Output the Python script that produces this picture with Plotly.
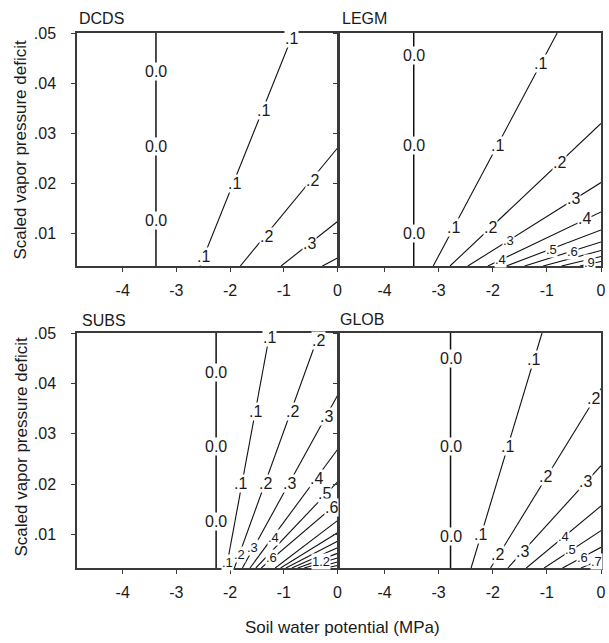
import plotly.graph_objects as go

# ---------------- data ----------------
X_RANGE = [-4.85, 0.0]
Y_RANGE = [0.0034, 0.05]
x_tick_vals = [-4, -3, -2, -1, 0]
x_tick_text = ["-4", "-3", "-2", "-1", "0"]
y_tick_vals = [0.01, 0.02, 0.03, 0.04, 0.05]
y_tick_text = [".01", ".02", ".03", ".04", ".05"]

# DCDS contour lines (straight segments: start -> end)
dcds_levels = [0.0, 0.1, 0.2, 0.3, 0.4]
dcds_x_start = [-3.38, -2.56, -1.81, -1.05, -0.28]
dcds_y_start = [0.0034, 0.0034, 0.0034, 0.0034, 0.0034]
dcds_x_end = [-3.38, -0.82, 0.0, 0.0, 0.0]
dcds_y_end = [0.05, 0.05, 0.027, 0.0123, 0.005]
dcds_lab_text = ["0.0", "0.0", "0.0", ".1", ".1", ".1", ".1", ".2", ".2", ".3"]
dcds_lab_x = [-3.38, -3.38, -3.38, -2.49, -1.92, -1.38, -0.85, -1.33, -0.46, -0.52]
dcds_lab_y = [0.0423, 0.0273, 0.0126, 0.0053, 0.0199, 0.0346, 0.0490, 0.0093, 0.0206, 0.0079]

# LEGM
legm_levels = [0.0, 0.1, 0.2, 0.3, 0.4, 0.5, 0.6, 0.7, 0.8, 0.9]
legm_x_start = [-3.46, -3.10, -2.79, -2.46, -2.09, -1.75, -1.41, -1.07, -0.73, -0.39]
legm_y_start = [0.0034] * 10
legm_x_end = [-3.46, -0.81, 0.0, 0.0, 0.0, 0.0, 0.0, 0.0, 0.0, 0.0]
legm_y_end = [0.05, 0.05, 0.0319, 0.0201, 0.0142, 0.0106, 0.0082, 0.0065, 0.0053, 0.0043]
legm_lab_text = ["0.0", "0.0", "0.0", ".1", ".1", ".1", ".2", ".2", ".3", ".3",
                 ".4", ".4", ".5", ".6", ".9"]
legm_lab_x = [-3.46, -3.46, -3.46, -2.73, -1.92, -1.12, -2.04, -0.77, -1.71, -0.50,
              -1.86, -0.30, -0.92, -0.52, -0.22]
legm_lab_y = [0.0456, 0.0276, 0.0099, 0.0111, 0.0276, 0.0439, 0.0111, 0.0241, 0.0085, 0.0169,
              0.0047, 0.0129, 0.0068, 0.0064, 0.0042]
legm_lab_small = [False] * 8 + [True, False, True, False, True, True, True]

# SUBS
subs_levels = [0.0, 0.1, 0.2, 0.3, 0.4, 0.5, 0.6, 0.7, 0.8, 0.9, 1.0, 1.1, 1.2, 1.3, 1.4]
subs_x_start = [-2.26, -2.07, -1.92, -1.77, -1.63, -1.52, -1.42, -1.16, -1.06, -0.96,
                -0.85, -0.74, -0.62, -0.42, -0.22]
subs_y_start = [0.0034] * 15
subs_x_end = [-2.26, -1.26, -0.34] + [0.0] * 12
subs_y_end = [0.05, 0.05, 0.05, 0.0376, 0.0269, 0.0205, 0.0163, 0.0128, 0.0104, 0.0087,
              0.0074, 0.0063, 0.0054, 0.0046, 0.0039]
subs_lab_text = ["0.0", "0.0", "0.0", ".1", ".1", ".1", ".1", ".2", ".2", ".2", ".2",
                 ".3", ".3", ".3", ".4", ".4", ".5", ".6", ".6", "1.2"]
subs_lab_x = [-2.26, -2.26, -2.26, -1.26, -1.52, -1.80, -2.05, -0.36, -0.83, -1.34, -1.83,
              -0.20, -0.90, -1.58, -0.40, -1.19, -0.24, -0.12, -1.22, -0.30]
subs_lab_y = [0.0421, 0.0275, 0.0126, 0.0492, 0.0345, 0.0202, 0.0045, 0.0485, 0.0345, 0.0202,
              0.0060, 0.0335, 0.0202, 0.0074, 0.0211, 0.0094, 0.0181, 0.0154, 0.0054, 0.0046]
subs_lab_small = [False] * 6 + [True] + [False] * 3 + [True, False, False, True,
                                                       False, True, False, False, True, True]

# GLOB
glob_levels = [0.0, 0.1, 0.2, 0.3, 0.4, 0.5, 0.6, 0.7]
glob_x_start = [-2.78, -2.40, -2.04, -1.72, -1.38, -1.05, -0.71, -0.37]
glob_y_start = [0.0034] * 8
glob_x_end = [-2.78, -1.09, 0.0, 0.0, 0.0, 0.0, 0.0, 0.0]
glob_y_end = [0.05, 0.05, 0.039, 0.0237, 0.0157, 0.0108, 0.0075, 0.0051]
glob_lab_text = ["0.0", "0.0", "0.0", ".1", ".1", ".1", ".2", ".2", ".2", ".3", ".3",
                 ".4", ".5", ".6", ".7"]
glob_lab_x = [-2.78, -2.78, -2.78, -1.24, -1.72, -2.22, -0.14, -1.02, -1.91, -0.29, -1.45,
              -0.69, -0.57, -0.34, -0.09]
glob_lab_y = [0.0450, 0.0275, 0.0097, 0.0447, 0.0275, 0.0100, 0.0371, 0.0216, 0.0060, 0.0206,
              0.0067, 0.0097, 0.0070, 0.0055, 0.0047]
glob_lab_small = [False] * 11 + [True, True, True, True]

panels = [
    dict(name="DCDS", levels=dcds_levels, xs=dcds_x_start, ys=dcds_y_start, xe=dcds_x_end,
         ye=dcds_y_end, lt=dcds_lab_text, lx=dcds_lab_x, ly=dcds_lab_y,
         sm=[False] * len(dcds_lab_text)),
    dict(name="LEGM", levels=legm_levels, xs=legm_x_start, ys=legm_y_start, xe=legm_x_end,
         ye=legm_y_end, lt=legm_lab_text, lx=legm_lab_x, ly=legm_lab_y, sm=legm_lab_small),
    dict(name="SUBS", levels=subs_levels, xs=subs_x_start, ys=subs_y_start, xe=subs_x_end,
         ye=subs_y_end, lt=subs_lab_text, lx=subs_lab_x, ly=subs_lab_y, sm=subs_lab_small),
    dict(name="GLOB", levels=glob_levels, xs=glob_x_start, ys=glob_y_start, xe=glob_x_end,
         ye=glob_y_end, lt=glob_lab_text, lx=glob_lab_x, ly=glob_lab_y, sm=glob_lab_small),
]

# ---------------- layout geometry ----------------
W, H = 609, 643
ML, MR, MT, MB = 77, 3, 33, 75
PW, PH = W - ML - MR, H - MT - MB
x_domains = [[0.0, 263 / PW], [264 / PW, 1.0], [0.0, 263 / PW], [264 / PW, 1.0]]
y_domains = [[1 - 233 / PH, 1.0], [1 - 233 / PH, 1.0], [0.0, 1 - 300 / PH], [0.0, 1 - 300 / PH]]

FONT = "Arial, Liberation Sans, sans-serif"
TXT = "#1a1a1a"
LINE = "#3a3a3a"

fig = go.Figure()
annotations = []

for i, p in enumerate(panels):
    sfx = "" if i == 0 else str(i + 1)
    xa, ya = "x" + sfx, "y" + sfx
    for lev, x0, y0, x1, y1 in zip(p["levels"], p["xs"], p["ys"], p["xe"], p["ye"]):
        fig.add_trace(go.Scatter(
            x=[x0, x1], y=[y0, y1], mode="lines", xaxis=xa, yaxis=ya,
            line=dict(color="#111111", width=1.5 if lev == 0 else 1.1),
            showlegend=False, hoverinfo="skip"))
    for t, lx, ly, sm in zip(p["lt"], p["lx"], p["ly"], p["sm"]):
        annotations.append(dict(
            x=lx, y=ly, xref=xa, yref=ya, text=t, showarrow=False,
            font=dict(family=FONT, size=13 if sm else 16, color=TXT), bgcolor="white",
            borderpad=0, xanchor="center", yanchor="middle"))

    xkey = "xaxis" + sfx
    ykey = "yaxis" + sfx
    fig.layout[xkey] = dict(
        domain=x_domains[i], anchor=ya, range=X_RANGE, showgrid=False, zeroline=False,
        showline=True, mirror=True, linecolor=LINE, linewidth=1.5,
        ticks="outside", ticklen=4, tickcolor=LINE, tickwidth=1,
        tickvals=x_tick_vals, ticktext=x_tick_text,
        tickfont=dict(family=FONT, size=16, color=TXT), ticklabelstandoff=5)
    fig.layout[ykey] = dict(
        domain=y_domains[i], anchor=xa, range=Y_RANGE, showgrid=False, zeroline=False,
        showline=True, mirror=True, linecolor=LINE, linewidth=1.5,
        ticks="outside", ticklen=4, tickcolor=LINE, tickwidth=1,
        tickvals=y_tick_vals, ticktext=y_tick_text, showticklabels=(i % 2 == 0),
        tickfont=dict(family=FONT, size=16, color=TXT), ticklabelstandoff=12)

# panel titles
title_pos = [(0.0, 1.028), (266 / PW, 1.028), (3 / PW, 0.462), (263 / PW, 0.464)]
for p, (tx, ty) in zip(panels, title_pos):
    annotations.append(dict(x=tx, y=ty, xref="paper", yref="paper", text=p["name"],
                            showarrow=False, xanchor="left", yanchor="middle",
                            font=dict(family=FONT, size=16, color=TXT)))

# axis titles
for cy in [(568 - 150) / PH, (568 - 447) / PH]:
    annotations.append(dict(x=(20 - ML) / PW, y=cy, xref="paper", yref="paper",
                            text="Scaled vapor pressure deficit", textangle=-90,
                            showarrow=False, xanchor="center", yanchor="middle",
                            font=dict(family=FONT, size=17, color=TXT)))
annotations.append(dict(x=(345 - ML) / PW, y=(568 - 627) / PH, xref="paper", yref="paper",
                        text="Soil water potential (MPa)", showarrow=False,
                        xanchor="center", yanchor="middle",
                        font=dict(family=FONT, size=17, color=TXT)))

fig.update_layout(
    width=W, height=H, margin=dict(l=ML, r=MR, t=MT, b=MB),
    paper_bgcolor="white", plot_bgcolor="white",
    annotations=annotations, showlegend=False)

fig.write_html("out.html")
